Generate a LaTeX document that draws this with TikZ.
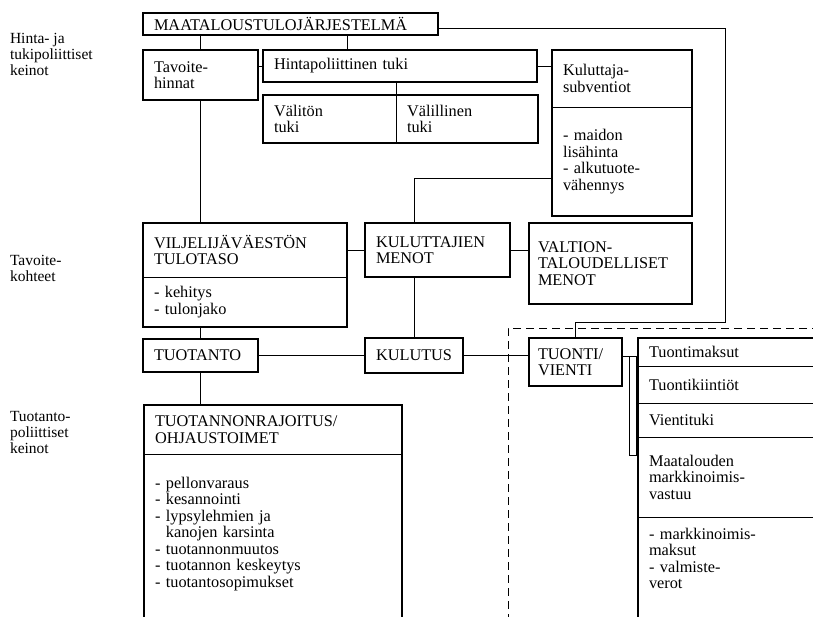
\documentclass[tikz,border=0pt]{standalone}
\usepackage{fontspec}
\setmainfont{Liberation Serif}
\usepackage{tikz}
\hyphenpenalty=10000
\exhyphenpenalty=10000

\begin{document}
\begin{tikzpicture}[x=1pt, y=-1pt,
    txt/.style={anchor=north west, align=left, inner sep=0pt, outer sep=0pt, font=\fontsize{16.3}{16.5}\selectfont},
    lab/.style={txt, font=\fontsize{15.5}{16}\selectfont},
    cell/.style={txt, inner xsep=11pt},
    box/.style={cell, draw, line width=2pt},
    frame/.style={line width=2pt},
    link/.style={line width=0.9pt}]
        \useasboundingbox (0,0) rectangle (813,616);
        \clip (0,0) rectangle (813,616);

        % row titles
        \node[lab] (lab1) at (10,33) {Hinta- ja\\tukipoliittiset\\keinot};
        \node[lab] (lab2) at (10,255) {Tavoite-\\kohteet};
        \node[lab] (lab3) at (10,411) {Tuotanto-\\poliittiset\\keinot};

        % price and support policy
        \node[box, text width=273pt, minimum height=22pt] (maa) at (143,13) {MAATALOUSTULOJÄRJESTELMÄ};
        \node[box, text width=93pt, minimum height=50pt] (tav) at (143,50) {Tavoite-\\hinnat};
        \node[box, text width=252pt, minimum height=32pt] (hinta) at (263,50) {Hintapoliittinen tuki};
        \node[cell, draw, link, text width=111pt, minimum height=48pt] (valiton) at (263,95) {Välitön\\tuki};
        \node[cell, draw, link, text width=120pt, minimum height=48pt] (valillinen) at (396,95) {Välillinen\\tuki};
        \draw[frame] (valiton.north west) rectangle (valillinen.south east);

        \node[cell, text width=118pt, minimum height=57pt] (kshead) at (552,50) {Kuluttaja-\\subventiot};
        \node[cell, text width=118pt, minimum height=109pt] (kslist) at (kshead.south west) {- maidon\\lisähinta\\- alkutuote-\\vähennys};
        \draw[frame] (kshead.north west) rectangle (kslist.south east);
        \draw[link] (kshead.south west) -- (kshead.south east);

        % targets
        \node[cell, text width=182pt, minimum height=54pt] (viljhead) at (143,223) {VILJELIJÄVÄESTÖN\\TULOTASO};
        \node[cell, text width=182pt, minimum height=50pt] (viljlist) at (viljhead.south west) {- kehitys\\- tulonjako};
        \draw[frame] (viljhead.north west) rectangle (viljlist.south east);
        \draw[link] (viljhead.south west) -- (viljhead.south east);
        \node[box, text width=123pt, minimum height=54pt] (kulmen) at (365,223) {KULUTTAJIEN\\MENOT};
        \node[box, inner xsep=9pt, text width=145pt, minimum height=81pt] (valtion) at (529,223) {VALTION-\\TALOUDELLISET\\MENOT};

        \node[box, text width=93pt, minimum height=33pt] (tuotanto) at (143,339) {TUOTANTO};
        \node[box, text width=76pt, minimum height=35pt] (kulutus) at (365,338) {KULUTUS};
        \node[box, inner xsep=9pt, text width=75pt, minimum height=48pt] (tuonti) at (529,338) {TUONTI/\\VIENTI};

        % production policy
        \node[cell, text width=236pt, minimum height=49pt] (rajhead) at (144,405) {TUOTANNONRAJOITUS/\\OHJAUSTOIMET};
        \node[cell, inner ysep=23pt, text width=236pt] (rajlist) at (rajhead.south west) {- pellonvaraus\\- kesannointi\\- lypsylehmien ja\\\phantom{- }kanojen karsinta\\- tuotannonmuutos\\- tuotannon keskeytys\\- tuotantosopimukset};
        \draw[frame] ([yshift=-200pt]rajhead.south west) -- (rajhead.north west) -- (rajhead.north east) -- ([yshift=-200pt]rajhead.south east);
        \draw[link] (rajhead.south west) -- (rajhead.south east);

        % foreign trade
        \draw[link, dash pattern=on 8pt off 5pt] (820,328) -- (508,328) -- (508,620);
        \node[cell, draw, link, text width=178pt, minimum height=28pt] (maksut) at (638,338) {Tuontimaksut};
        \node[cell, draw, link, text width=178pt, minimum height=37pt] (kiintiot) at (maksut.south west) {Tuontikiintiöt};
        \node[cell, draw, link, text width=178pt, minimum height=34pt] (vientituki) at (kiintiot.south west) {Vientituki};
        \node[cell, draw, link, text width=178pt, minimum height=80pt] (vastuu) at (vientituki.south west) {Maatalouden\\markkinoimis-\\vastuu};
        \node[cell, inner ysep=11pt, text width=178pt] (mlist) at (vastuu.south west) {- markkinoimis-\\maksut\\- valmiste-\\verot};
        \draw[frame] ([yshift=-200pt]vastuu.south west) -- (maksut.north west) -- (maksut.north east);

        \node[draw, link, minimum width=7pt, minimum height=99pt, inner sep=0pt, outer sep=0pt, anchor=north west] (bar) at (629,356) {};
        \draw[link] (bar.north west -| tuonti.east) -- (bar.north west);
        \foreach \i in {0,...,3}
          \draw[link] ([yshift=-\i*33pt]bar.north east) -- ++(3,0);

        % connectors
        \coordinate (hn) at ([xshift=-53pt]hinta.north);
        \coordinate (ks) at ([yshift=-17pt]kslist.west);
        \coordinate (me) at ([yshift=-4pt]maa.east);
        \coordinate (turn) at (725,322);
        \draw[link] (tav.north |- maa.south) -- (tav.north);
        \draw[link] (hn |- maa.south) -- (hn);
        \draw[link] (hinta.west -| tav.east) -- (hinta.west);
        \draw[link] (valillinen.north west |- hinta.south) -- (valillinen.north west);
        \draw[link] (hinta.east) -- (hinta.east -| kshead.west);
        \draw[link] (tav.south) -- (tav.south |- viljhead.north);
        \draw[link] (viljhead.east) -- (kulmen.west);
        \draw[link] (kulmen.east) -- (valtion.west |- kulmen.east);
        \draw[link] (ks) -| (kulutus.north |- kulmen.north);
        \draw[link] (kulutus.north) -- (kulutus.north |- kulmen.south);
        \draw[link] (tuotanto.north |- viljlist.south) -- (tuotanto.north);
        \draw[link] (tuotanto.east) -- (kulutus.west);
        \draw[link] (kulutus.east) -- (kulutus.east -| tuonti.west);
        \draw[link] (tuotanto.south) -- (tuotanto.south |- rajhead.north);
        \draw[link] (me) -| (turn) -| (tuonti.north);
      \end{tikzpicture}
\end{document}
